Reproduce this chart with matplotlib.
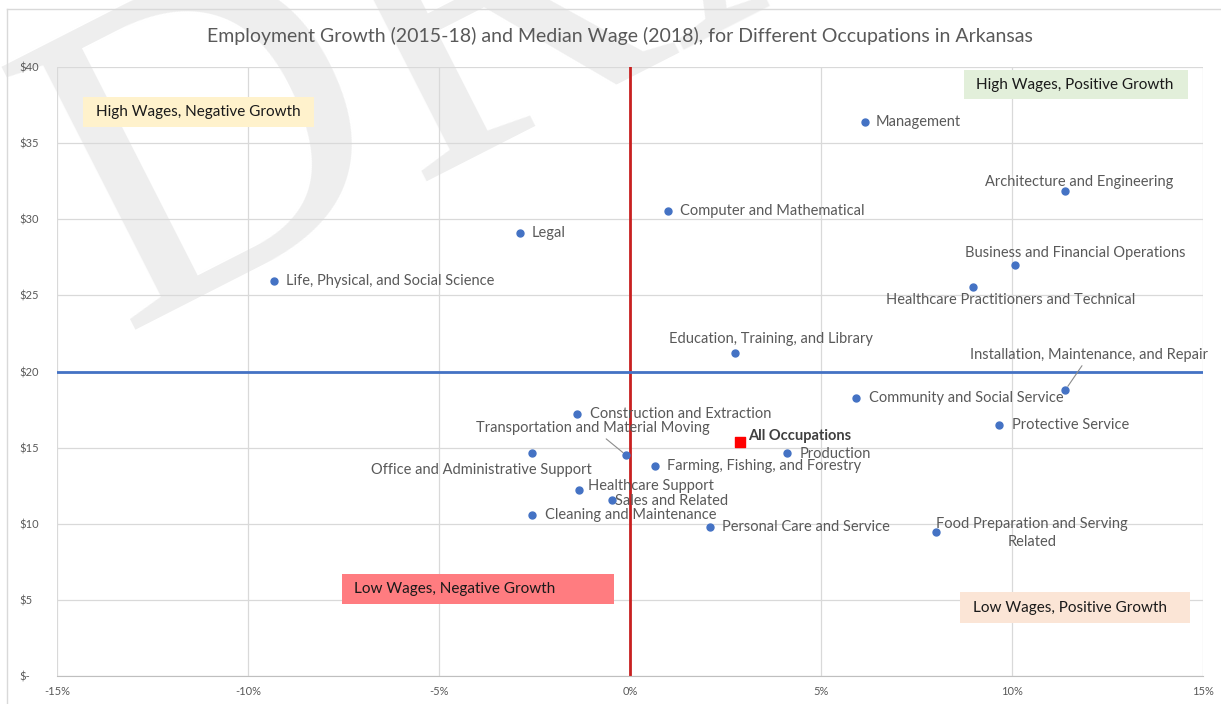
import matplotlib
matplotlib.use("Agg")
from matplotlib import pyplot as plt
from matplotlib.lines import Line2D
from matplotlib.patches import Rectangle

# Employment growth 2015-18 (%) and median wage 2018 ($/hr) by occupation
occupations = [
    "Management", "Architecture and Engineering", "Computer and Mathematical",
    "Legal", "Life, Physical, and Social Science", "Business and Financial Operations",
    "Healthcare Practitioners and Technical", "Education, Training, and Library",
    "Installation, Maintenance, and Repair", "Community and Social Service",
    "Protective Service", "Construction and Extraction",
    "Transportation and Material Moving", "Office and Administrative Support",
    "Production", "Farming, Fishing, and Forestry", "Healthcare Support",
    "Sales and Related", "Cleaning and Maintenance", "Personal Care and Service",
    "Food Preparation and Serving\nRelated",
]
growth = [6.15, 11.4, 1.0, -2.88, -9.32, 10.08, 8.98, 2.75, 11.4, 5.92, 9.66,
          -1.39, -0.1, -2.57, 4.11, 0.65, -1.34, -0.47, -2.57, 2.09, 8.01]
wage = [36.4, 31.85, 30.55, 29.1, 25.95, 27.0, 25.55, 21.2, 18.8, 18.25, 16.5,
        17.2, 14.5, 14.65, 14.65, 13.8, 12.2, 11.55, 10.6, 9.8, 9.45]

all_label = "All Occupations"
all_growth = 2.88
all_wage = 15.4

wage_line = 20  # horizontal reference

x_ticks = [-15, -10, -5, 0, 5, 10, 15]
x_tick_labels = ["-15%", "-10%", "-5%", "0%", "5%", "10%", "15%"]
y_ticks = [0, 5, 10, 15, 20, 25, 30, 35, 40]
y_tick_labels = ["$-", "$5", "$10", "$15", "$20", "$25", "$30", "$35", "$40"]

title = "Employment Growth (2015-18) and Median Wage (2018), for Different Occupations in Arkansas"

quadrant_labels = ["High Wages, Negative Growth", "High Wages, Positive Growth",
                   "Low Wages, Negative Growth", "Low Wages, Positive Growth"]

# label placement (pixel offsets from the point, alignment, leader line)
label_style = {
    "Management": (11, 0, "left", False),
    "Architecture and Engineering": (14, 9, "center", False),
    "Computer and Mathematical": (12, 0, "left", False),
    "Legal": (12, 0, "left", False),
    "Life, Physical, and Social Science": (12, 0, "left", False),
    "Business and Financial Operations": (60, 12, "center", False),
    "Healthcare Practitioners and Technical": (38, -13, "center", False),
    "Education, Training, and Library": (36, 14, "center", False),
    "Installation, Maintenance, and Repair": (24, 35, "center", True),
    "Community and Social Service": (13, 0, "left", False),
    "Protective Service": (13, 0, "left", False),
    "Construction and Extraction": (13, 0, "left", False),
    "Transportation and Material Moving": (-33, 27, "center", True),
    "Office and Administrative Support": (-50, -17, "center", False),
    "Production": (13, -1, "left", False),
    "Farming, Fishing, and Forestry": (12, 0, "left", False),
    "Healthcare Support": (9, 4, "left", False),
    "Sales and Related": (3, -1, "left", False),
    "Cleaning and Maintenance": (13, 0, "left", False),
    "Personal Care and Service": (12, 0, "left", False),
    "Food Preparation and Serving\nRelated": (96, -1, "center", False),
}

# quadrant boxes: (x0, x1, y0, y1, text x, colour)
quad_style = [
    (-14.32, -8.27, 36.06, 38.03, -13.98, "#fff2cc"),
    (8.74, 14.62, 37.9, 39.8, 9.05, "#e2efda"),
    (-7.54, -0.42, 4.75, 6.72, -7.23, "#ff7c80"),
    (8.64, 14.66, 3.45, 5.5, 8.98, "#fbe5d6"),
]

plt.rcParams["font.family"] = ["Lato", "DejaVu Sans"]
grey = "#595959"

fig = plt.figure(figsize=(12.21, 7.04), dpi=100)
ax = fig.add_axes([57 / 1221, 1 - 676 / 704, 1146 / 1221, 609 / 704])
ax.set_facecolor("none")
ax.set_zorder(2)

# watermark, behind everything
fig.text(122 / 1221, 1 - 330 / 704, "DRAFT", fontsize=324, family="Liberation Serif",
         color="#eeeeee", rotation=27, rotation_mode="anchor", ha="left", va="baseline",
         zorder=0)

# outer chart border (top and left visible)
fig.add_artist(Line2D([7 / 1221, 7 / 1221], [0, 1 - 9 / 704], color="#d9d9d9", lw=1))
fig.add_artist(Line2D([7 / 1221, 1], [1 - 9 / 704, 1 - 9 / 704], color="#d9d9d9", lw=1))

ax.set_xlim(-15, 15)
ax.set_ylim(0, 40)
ax.set_xticks(x_ticks)
ax.set_xticklabels(x_tick_labels)
ax.set_yticks(y_ticks)
ax.set_yticklabels(y_tick_labels)
ax.grid(True, color="#d9d9d9", lw=0.9)
ax.set_axisbelow(True)
for s in ["left", "top", "right"]:
    ax.spines[s].set_visible(False)
ax.spines["bottom"].set_color("#bfbfbf")
ax.tick_params(axis="both", length=0, labelsize=8, labelcolor=grey)
ax.tick_params(axis="x", pad=7)
ax.tick_params(axis="y", pad=27)
for lab in ax.get_yticklabels():
    lab.set_horizontalalignment("left")

ax.axvline(0, color="#c82020", lw=2, zorder=2)
ax.axhline(wage_line, color="#4472c4", lw=2, zorder=2)

ax.scatter(growth, wage, s=25, color="#4472c4", zorder=4)
ax.scatter([all_growth], [all_wage], s=60, marker="s", color="#ff0000", zorder=4)

for name, gx, wy in zip(occupations, growth, wage):
    dx, dy, ha, leader = label_style[name]
    kw = {}
    if leader:
        kw["arrowprops"] = dict(arrowstyle="-", color="#8c8c8c", lw=0.8, shrinkA=1, shrinkB=3)
    ax.annotate(name, (gx, wy), xytext=(dx, dy), textcoords="offset pixels",
                ha=ha, va="center", fontsize=10.5, color=grey, multialignment="center",
                linespacing=1.35, zorder=5, **kw)

ax.annotate(all_label, (all_growth, all_wage), xytext=(8, 6), textcoords="offset pixels",
            ha="left", va="center", fontsize=10.5, fontweight="bold", color="#404040", zorder=5)

# quadrant labels
for txt, (x0, x1, y0, y1, tx, fc) in zip(quadrant_labels, quad_style):
    ax.add_patch(Rectangle((x0, y0), x1 - x0, y1 - y0, facecolor=fc, edgecolor="none", zorder=6))
    ax.text(tx, (y0 + y1) / 2, txt, ha="left", va="center", fontsize=11, color="#1a1a1a",
            zorder=7)

fig.text(620 / 1221, 1 - 36 / 704, title, ha="center", va="center", fontsize=14, color=grey)

fig.savefig("out.png", dpi=100)
